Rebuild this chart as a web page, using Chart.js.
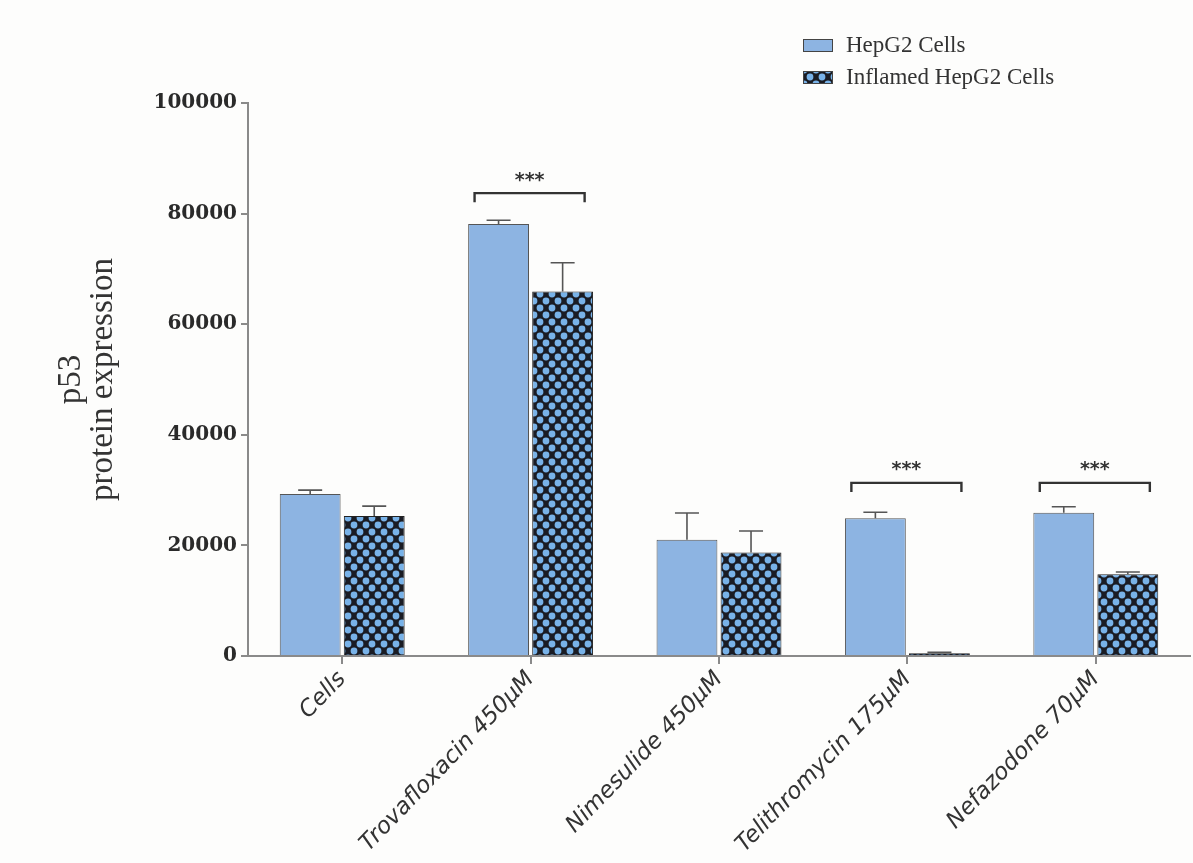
<!DOCTYPE html>
<html>
<head>
<meta charset="utf-8">
<script src="https://cdn.jsdelivr.net/npm/chart.js@4"></script>
<style>
  html, body { margin: 0; padding: 0; background: #fdfdfc; }
  #wrap { width: 1193px; height: 863px; position: relative; }
</style>
</head>
<body>
<div id="wrap"><canvas id="p53Chart" width="1193" height="863"></canvas></div>
<script>
const categories = ['Cells', 'Trovafloxacin 450µM', 'Nimesulide 450µM', 'Telithromycin 175µM', 'Nefazodone 70µM'];
const seriesNames = ['HepG2 Cells', 'Inflamed HepG2 Cells'];
const hepg2Values = [29300, 78100, 21000, 24900, 25900];
const hepg2Errors = [700, 700, 4850, 1100, 1100];
const inflamedValues = [25300, 65900, 18700, 500, 14800];
const inflamedErrors = [1800, 5200, 3900, 150, 400];
const bracketValues = [null, 83700, null, 31300, 31300];
const bracketLabels = [null, '***', null, '***', '***'];
const yTicks = [0, 20000, 40000, 60000, 80000, 100000];

const barBlue = '#8db4e2';
const axisGrey = '#8a8a8a';

// dotted/crosshatch fill for the inflamed series
const makePattern = () => {
  const tile = document.createElement('canvas');
  tile.width = 12;
  tile.height = 14;
  const t = tile.getContext('2d');
  t.fillStyle = '#1a1c24';
  t.fillRect(0, 0, 12, 14);
  t.fillStyle = '#78b2e8';
  [[0, 0], [12, 0], [0, 14], [12, 14], [6, 7]].forEach(([x, y]) => {
    t.beginPath();
    t.arc(x, y, 3.4, 0, Math.PI * 2);
    t.fill();
  });
  return document.getElementById('p53Chart').getContext('2d').createPattern(tile, 'repeat');
};
const hatch = makePattern();

const errorBars = {
  id: 'errorBars',
  afterDatasetsDraw(chart) {
    const ctx = chart.ctx;
    const y = chart.scales.y;
    const errs = [hepg2Errors, inflamedErrors];
    ctx.save();
    ctx.strokeStyle = '#555';
    ctx.lineWidth = 1.6;
    chart.data.datasets.forEach((ds, i) => {
      chart.getDatasetMeta(i).data.forEach((bar, j) => {
        const top = y.getPixelForValue(ds.data[j] + errs[i][j]);
        ctx.beginPath();
        ctx.moveTo(bar.x, bar.y);
        ctx.lineTo(bar.x, top);
        ctx.moveTo(bar.x - 12, top);
        ctx.lineTo(bar.x + 12, top);
        ctx.stroke();
      });
    });

    // significance brackets
    const m0 = chart.getDatasetMeta(0).data;
    const m1 = chart.getDatasetMeta(1).data;
    ctx.strokeStyle = '#333';
    ctx.lineWidth = 2.4;
    ctx.fillStyle = '#333';
    ctx.font = 'bold 19px "DejaVu Sans"';
    ctx.textAlign = 'center';
    ctx.textBaseline = 'bottom';
    bracketValues.forEach((v, j) => {
      if (v === null) return;
      const by = y.getPixelForValue(v);
      const x1 = m0[j].x - 24;
      const x2 = m1[j].x + 22;
      ctx.beginPath();
      ctx.moveTo(x1, by + 9);
      ctx.lineTo(x1, by);
      ctx.lineTo(x2, by);
      ctx.lineTo(x2, by + 9);
      ctx.stroke();
      ctx.fillText(bracketLabels[j], (x1 + x2) / 2, by - 3);
    });
    ctx.restore();
  }
};

const boxLegend = {
  id: 'boxLegend',
  afterDraw(chart) {
    const ctx = chart.ctx;
    ctx.save();
    ctx.font = '23px "Liberation Serif"';
    ctx.textBaseline = 'middle';
    ctx.textAlign = 'left';
    const fills = [barBlue, hatch];
    seriesNames.forEach((name, i) => {
      const top = 39 + i * 32;
      ctx.fillStyle = fills[i];
      ctx.fillRect(803, top, 30, 13);
      ctx.strokeStyle = '#444';
      ctx.lineWidth = 1;
      ctx.strokeRect(803.5, top + 0.5, 29, 12);
      ctx.fillStyle = '#333';
      ctx.fillText(name, 846, top + 7);
    });
    ctx.restore();
  }
};

new Chart(document.getElementById('p53Chart'), {
  type: 'bar',
  data: {
    labels: categories,
    datasets: [
      {
        label: seriesNames[0],
        data: hepg2Values,
        backgroundColor: barBlue,
        borderColor: '#555',
        borderWidth: 1,
        barPercentage: 0.95,
        categoryPercentage: 0.68,
      },
      {
        label: seriesNames[1],
        data: inflamedValues,
        backgroundColor: hatch,
        borderColor: '#222',
        borderWidth: 1,
        barPercentage: 0.95,
        categoryPercentage: 0.68,
      },
    ],
  },
  options: {
    responsive: false,
    animation: false,
    layout: { padding: { top: 103, right: 3, left: 56, bottom: 0 } },
    plugins: {
      legend: { display: false },
      tooltip: { enabled: false },
    },
    scales: {
      x: {
        grid: { display: true, drawOnChartArea: false, offset: false, tickLength: 8, color: axisGrey, lineWidth: 2 },
        border: { color: axisGrey, width: 2 },
        ticks: {
          color: '#333',
          font: { family: '"DejaVu Sans"', style: 'italic', size: 23 },
          minRotation: 46,
          maxRotation: 46,
          padding: 2,
        },
        afterFit: (scale) => { scale.height = 207; },
      },
      y: {
        min: 0,
        max: 100000,
        afterBuildTicks: (scale) => { scale.ticks = yTicks.map(v => ({ value: v })); },
        grid: { display: true, drawOnChartArea: false, tickLength: 7, color: axisGrey, lineWidth: 2 },
        border: { color: axisGrey, width: 2 },
        ticks: {
          color: '#2a2a2a',
          font: { family: '"DejaVu Serif"', weight: 'bold', size: 20 },
          padding: 4,
          callback: (v) => String(v),
        },
        title: {
          display: true,
          text: ['p53', 'protein expression'],
          color: '#333',
          font: { family: '"Liberation Serif"', size: 33, lineHeight: 0.95 },
          padding: { top: 0, bottom: 0 },
        },
        afterFit: (scale) => { scale.width = 192; },
      },
    },
  },
  plugins: [errorBars, boxLegend],
});
</script>
</body>
</html>
